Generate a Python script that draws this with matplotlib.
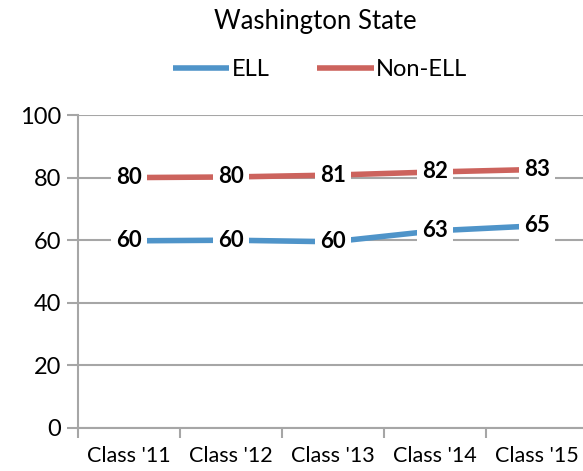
import matplotlib.pyplot as plt

plt.rcParams['font.family'] = ['Lato', 'DejaVu Sans']

# data
classes = ["Class '11", "Class '12", "Class '13", "Class '14", "Class '15"]
ell = [59.8, 60.0, 59.5, 63.0, 64.6]
non_ell = [80.0, 80.2, 80.8, 81.8, 82.6]

blue = '#4f94c9'
red = '#cc635d'
grid_c = '#a6a6a6'

fig = plt.figure(figsize=(5.83, 4.71), dpi=100)
ax = fig.add_axes([78 / 583, 43 / 471, 510 / 583, 313 / 471])

x = list(range(len(classes)))
ax.plot(x, ell, color=blue, lw=4, solid_capstyle='butt', label='ELL', zorder=3)
ax.plot(x, non_ell, color=red, lw=4, solid_capstyle='butt', label='Non-ELL', zorder=3)

# data labels with white boxes
for xi, v in zip(x, ell):
    ax.text(xi, v, f'{round(v):d}', ha='center', va='center', fontsize=16,
            fontweight='bold', zorder=4,
            bbox=dict(boxstyle='square,pad=0.25', fc='white', ec='none'))
for xi, v in zip(x, non_ell):
    ax.text(xi, v, f'{round(v):d}', ha='center', va='center', fontsize=16,
            fontweight='bold', zorder=4,
            bbox=dict(boxstyle='square,pad=0.25', fc='white', ec='none'))

ax.set_xlim(-0.5, 4.5)
ax.set_ylim(0, 100)
ax.set_yticks(range(0, 101, 20))
ax.yaxis.grid(True, color=grid_c, lw=1.5)
ax.set_axisbelow(True)

ax.set_xticks([i - 0.5 for i in range(6)])
ax.set_xticklabels([])
ax.set_xticks(x, minor=True)
ax.set_xticklabels(classes, minor=True, fontsize=15.5)
ax.tick_params(axis='x', which='minor', length=0, pad=13)
ax.tick_params(axis='x', which='major', length=7, width=1.5, color=grid_c, direction='out')
ax.tick_params(axis='y', length=8, width=1.5, color=grid_c, labelsize=17, pad=4)

for s in ['top', 'right']:
    ax.spines[s].set_visible(False)
for s in ['left', 'bottom']:
    ax.spines[s].set_color(grid_c)
    ax.spines[s].set_linewidth(1.5)

fig.text(315 / 583, 1 - 22 / 471, 'Washington State', ha='center', va='center', fontsize=18.5)
fig.legend(loc='center', bbox_to_anchor=(320 / 583, 1 - 70 / 471), ncol=2, frameon=False,
           fontsize=17, handlelength=2.4, handletextpad=0.1, columnspacing=2.0)

fig.savefig('out.png', dpi=100)
